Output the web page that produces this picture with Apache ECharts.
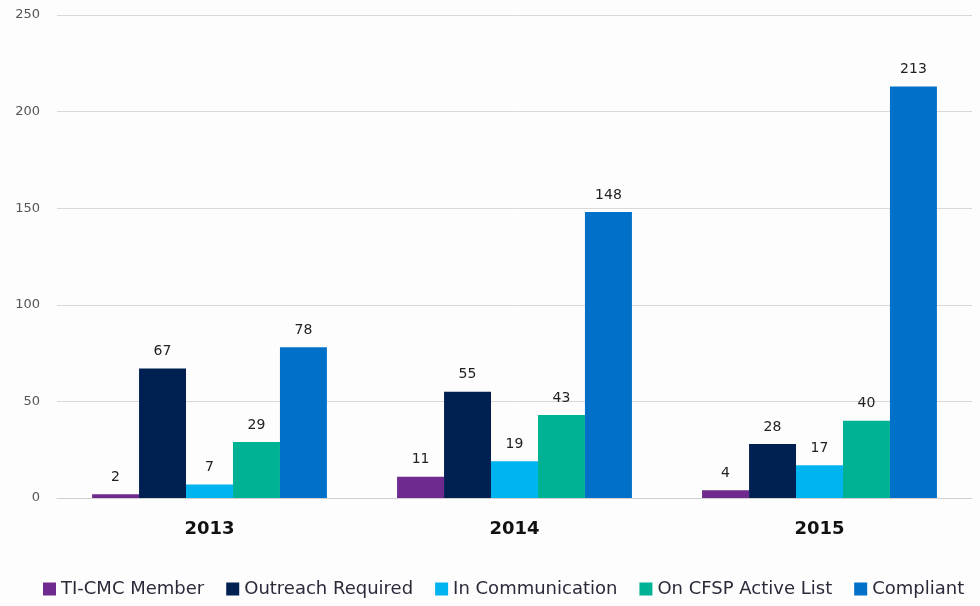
<!DOCTYPE html>
<html><head><meta charset="utf-8">
<script src="https://cdn.jsdelivr.net/npm/echarts@6/dist/echarts.min.js"></script>
<style>html,body{margin:0;padding:0;background:#fff}#c{width:980px;height:606px}</style>
</head><body><div id="c"></div>
<script>
var categories = ['2013', '2014', '2015'];
var seriesNames = ['TI-CMC Member', 'Outreach Required', 'In Communication', 'On CFSP Active List', 'Compliant'];
var tiCmc = [2, 11, 4];
var outreach = [67, 55, 28];
var inComm = [7, 19, 17];
var cfsp = [29, 43, 40];
var compliant = [78, 148, 213];
var yTicks = [0, 50, 100, 150, 200, 250];
var colors = ['#6E2A8E', '#002052', '#00B4F0', '#00B294', '#0070C8'];

var values = [tiCmc, outreach, inComm, cfsp, compliant];
var chart = echarts.init(document.getElementById('c'));
chart.setOption({
  backgroundColor: '#fdfdfd',
  animation: false,
  color: colors,
  grid: {left: 57, right: 8, top: 15, bottom: 108},
  legend: {
    bottom: 3, left: 38, itemWidth: 13, itemHeight: 13, itemGap: 22,
    icon: 'rect',
    textStyle: {fontFamily: 'DejaVu Sans', fontSize: 18, color: '#2a2a3a'},
    data: seriesNames
  },
  xAxis: {
    type: 'category', data: categories,
    axisTick: {show: false},
    axisLine: {lineStyle: {color: '#d0d0d0'}},
    axisLabel: {fontFamily: 'DejaVu Sans', fontSize: 18, fontWeight: 'bold', color: '#111', margin: 22}
  },
  yAxis: {
    type: 'value', min: yTicks[0], max: yTicks[yTicks.length - 1], interval: 50,
    axisLine: {show: false}, axisTick: {show: false},
    splitLine: {lineStyle: {color: '#d8d8d8'}},
    axisLabel: {fontFamily: 'DejaVu Sans', fontSize: 13, color: '#555', margin: 17}
  },
  series: seriesNames.map(function (n, i) {
    return {
      name: n, type: 'bar', data: values[i],
      barGap: '0%', barCategoryGap: '23%',
      label: {show: true, position: 'top', distance: 10, fontFamily: 'DejaVu Sans', fontSize: 14, color: '#222'}
    };
  })
});
</script></body></html>
